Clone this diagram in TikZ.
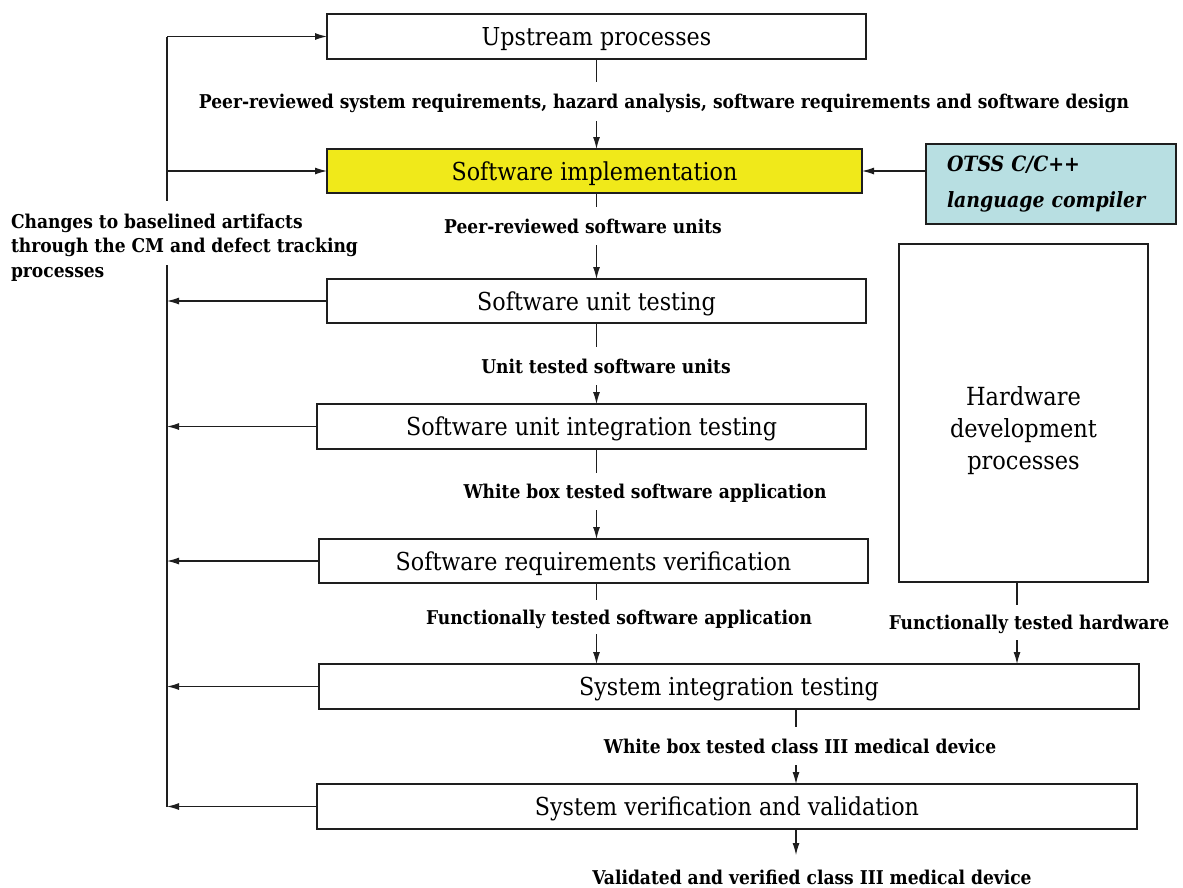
\documentclass[tikz,border=0pt]{standalone}
\usepackage{fontspec}
\setmainfont{DejaVu Serif Condensed}
\usetikzlibrary{arrows.meta}
\definecolor{implyellow}{HTML}{F0E91A}
\definecolor{otssblue}{HTML}{B8DFE2}
\definecolor{edge}{HTML}{1E1E1E}
\begin{document}
\begin{tikzpicture}[x=1pt,y=-1pt,
  box/.style={draw=edge, line width=1.1pt, minimum height=45pt, inner sep=0pt, outer sep=0pt,
    font=\fontsize{24.7}{32}\selectfont, text height=18pt, text depth=0pt},
  lbl/.style={font=\bfseries\fontsize{19}{24.5}\selectfont, inner sep=0pt, outer sep=0pt},
  onel/.style={lbl, text height=14pt, text depth=0pt},
  link/.style={draw=edge, line width=1.1pt},
  flow/.style={link, -{Latex[length=12pt,width=7pt]}}]
\useasboundingbox (0,0) rectangle (1183,887);

% process boxes
\node[box, minimum width=539pt] (up) at (596.5,36.5) {Upstream processes};
\node[box, fill=implyellow, minimum width=535pt, minimum height=44pt] (impl) at (594.5,171) {Software implementation};
\node[draw=edge, line width=1.1pt, outer sep=0pt, fill=otssblue, minimum width=250pt, minimum height=80pt,
  text width=208pt, inner xsep=21pt, inner ysep=0pt,
  align=left, font=\bfseries\itshape\fontsize{21}{36}\selectfont] (otss) at (1051,184)
  {OTSS C/C++\\language compiler};
\node[box, minimum width=539pt, minimum height=44pt] (unit) at (596.5,301) {Software unit testing};
\node[box, minimum width=549pt] (integ) at (591.5,426.5) {Software unit integration testing};
\node[box, minimum width=549pt, minimum height=44pt] (reqv) at (593.5,561) {Software requirements verification};
\node[box, minimum width=249pt, minimum height=338pt] (hw) at (1023.5,413) {};
\node[align=center, inner sep=0pt, font=\fontsize{25}{32}\selectfont] (hwtext) at (1023.5,431)
  {Hardware\\development\\processes};
\node[box, minimum width=820pt] (sysint) at (729,686.5) {System integration testing};
\node[box, minimum width=820pt] (sysvv) at (727,806.5) {System verification and validation};

% artefact labels between the stages
\node[onel, minimum height=39pt] (l1) at (664,101.5)
  {Peer-reviewed system requirements, hazard analysis, software requirements and software design};
\node[onel, minimum height=38pt] (l2) at (583,226) {Peer-reviewed software units};
\node[onel, minimum height=38pt] (l3) at (606,366) {Unit tested software units};
\node[onel, minimum height=37pt] (l4) at (645,491.5) {White box tested software application};
\node[onel, minimum height=34pt] (l5) at (619,617) {Functionally tested software application};
\node[onel, minimum height=35pt] (l6) at (1029,622.5) {Functionally tested hardware};
\node[onel, minimum height=38pt] (l7) at (800,746) {White box tested class III medical device};
\node[onel, minimum height=44pt] (l8) at (812,877) {Validated and verified class III medical device};

% main flow
\draw[link] (up.south) -- (up.south |- l1.north);
\draw[flow] (up.south |- l1.south) -- (up.south |- impl.north);
\draw[link] (up.south |- impl.south) -- (up.south |- l2.north);
\draw[flow] (up.south |- l2.south) -- (up.south |- unit.north);
\draw[link] (unit.south) -- (unit.south |- l3.north);
\draw[flow] (unit.south |- l3.south) -- (unit.south |- integ.north);
\draw[link] (unit.south |- integ.south) -- (unit.south |- l4.north);
\draw[flow] (unit.south |- l4.south) -- (unit.south |- reqv.north);
\draw[link] (reqv.south -| unit.south) -- (l5.north -| unit.south);
\draw[flow] (l5.south -| unit.south) -- (sysint.north -| unit.south);
\path (hw.south -| l6.north) ++(-12,0) coordinate (hwx);
\draw[link] (hw.south -| hwx) -- (l6.north -| hwx);
\draw[flow] (l6.south -| hwx) -- (sysint.north -| hwx);
\coordinate (mid) at (796,0);
\draw[link] (sysint.south -| mid) -- (l7.north -| mid);
\draw[flow] (l7.south -| mid) -- (sysvv.north -| mid);
\draw[flow] (sysvv.south -| mid) -- (l8.north -| mid);

% compiler input
\draw[flow] (otss.west |- impl.east) -- (impl.east);

% feedback through CM and defect tracking
\coordinate (fbtop) at (167,36.5);
\coordinate (fbbot) at (167,806.5);
\coordinate (gapa) at (167,201);
\coordinate (gapb) at (167,265);
\node[lbl, anchor=north west, align=left] (chg) at (11,214)
  {Changes to baselined artifacts\\through the CM and defect tracking\\processes};
\draw[link] (fbtop) -- (gapa);
\draw[link] (gapb) -- (fbbot);
\draw[flow] (fbtop) -- (up.west);
\draw[flow] (fbtop |- impl.west) -- (impl.west);
\draw[flow] (unit.west) -- (unit.west -| fbtop);
\draw[flow] (integ.west) -- (integ.west -| fbtop);
\draw[flow] (reqv.west) -- (reqv.west -| fbtop);
\draw[flow] (sysint.west) -- (sysint.west -| fbtop);
\draw[flow] (sysvv.west) -- (fbbot);
\end{tikzpicture}
\end{document}
